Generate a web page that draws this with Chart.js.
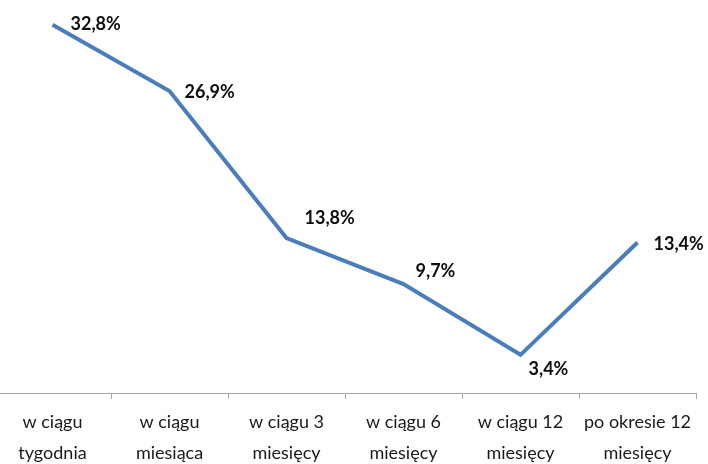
<!DOCTYPE html>
<html>
<head>
<meta charset="utf-8">
<script src="https://cdn.jsdelivr.net/npm/chart.js@4"></script>
<style>
  html, body { margin: 0; padding: 0; background: #fff; overflow: hidden; }
  #wrap { position: absolute; left: -6px; top: 0; width: 714px; height: 464px; }
</style>
</head>
<body>
<div id="wrap"><canvas id="chart"></canvas></div>
<script>
// chart data
const categories = [
  ["w ciągu", "tygodnia"],
  ["w ciągu", "miesiąca"],
  ["w ciągu 3", "miesięcy"],
  ["w ciągu 6", "miesięcy"],
  ["w ciągu 12", "miesięcy"],
  ["po okresie 12", "miesięcy"]
];
const shares = [32.8, 26.9, 13.8, 9.7, 3.4, 13.4];

// where each value label sits relative to its point
const labelOffsets = [[18, -1], [15, 1], [18, -20], [12, -13], [8, 14], [16, 2]];

const pointLabels = {
  id: "pointLabels",
  afterDatasetsDraw(chart) {
    const ctx = chart.ctx;
    const meta = chart.getDatasetMeta(0);
    ctx.save();
    ctx.font = "bold 18px Lato";
    ctx.fillStyle = "#0d0d0d";
    ctx.textAlign = "left";
    ctx.textBaseline = "middle";
    meta.data.forEach((pt, i) => {
      const txt = shares[i].toFixed(1).replace(".", ",") + "%";
      ctx.fillText(txt, pt.x + labelOffsets[i][0], pt.y + labelOffsets[i][1]);
    });
    ctx.restore();
  }
};

const ctx = document.getElementById("chart").getContext("2d");
new Chart(ctx, {
  type: "line",
  data: {
    labels: categories,
    datasets: [{
      data: shares,
      borderColor: "#4a7ebb",
      borderWidth: 4,
      pointRadius: 0,
      tension: 0,
      fill: false
    }]
  },
  options: {
    responsive: true,
    maintainAspectRatio: false,
    animation: false,
    layout: { padding: { top: 0, right: 12, bottom: 0, left: 0 } },
    scales: {
      x: {
        offset: true,
        grid: {
          offset: true,
          drawOnChartArea: false,
          drawTicks: true,
          tickLength: 6,
          color: "#a6a6a6"
        },
        border: { color: "#a6a6a6", width: 1 },
        ticks: {
          color: "#1a1a1a",
          padding: 8,
          maxRotation: 0,
          autoSkip: false,
          font: { family: "Lato", size: 18, lineHeight: 1.7 }
        },
        afterFit: (s) => { s.height = 71; }
      },
      y: {
        display: false,
        min: 0,
        max: 35
      }
    },
    plugins: {
      legend: { display: false },
      tooltip: { enabled: false }
    }
  },
  plugins: [pointLabels]
});
</script>
</body>
</html>
